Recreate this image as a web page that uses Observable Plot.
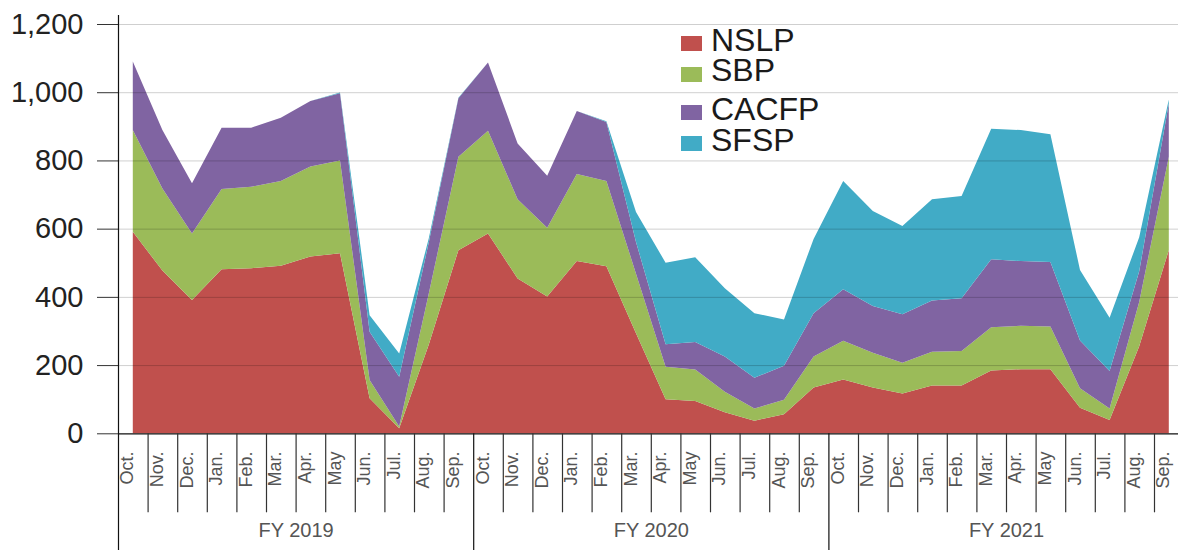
<!DOCTYPE html>
<html><head><meta charset="utf-8">
<script src="https://cdn.jsdelivr.net/npm/d3@7"></script>
<script src="https://cdn.jsdelivr.net/npm/@observablehq/plot@0.6"></script>
<style>
html,body{margin:0;padding:0;background:#fff;overflow:hidden;}
#wrap{position:relative;width:1178px;height:550px;}
#legend{position:absolute;left:681px;top:0;font-family:"Liberation Sans",Arial,sans-serif;font-size:32px;color:#1a1a1a;}
.sw{position:absolute;left:0;width:21px;height:15px;}
.lab{position:absolute;left:30px;line-height:24px;white-space:nowrap;}
</style></head><body>
<div id="wrap"><div id="chart"></div><div id="legend"></div></div>
<script>
const months = ["Oct.","Nov.","Dec.","Jan.","Feb.","Mar.","Apr.","May","Jun.","Jul.","Aug.","Sep.",
  "Oct.","Nov.","Dec.","Jan.","Feb.","Mar.","Apr.","May","Jun.","Jul.","Aug.","Sep.",
  "Oct.","Nov.","Dec.","Jan.","Feb.","Mar.","Apr.","May","Jun.","Jul.","Aug.","Sep."];
const fiscalYears = ["FY 2019","FY 2020","FY 2021"];
const programs = ["NSLP","SBP","CACFP","SFSP"];
const colors = ["#C0504D","#9BBB59","#8064A2","#41ABC6"];
const yTicks = [0,200,400,600,800,1000,1200];

const nslp  = [591,477,391,481,484,491,518,528,103,15,260,537, 586,454,401,505,490,293,100,95,62,37,56,134, 158,134,117,140,140,184,188,188,75,39,255,537];
const sbp   = [298,241,195,235,239,249,264,272,53,5,150,274, 301,232,202,255,250,175,95,92,60,36,42,91, 113,102,90,99,101,127,127,125,57,34,130,274];
const cacfp = [201,171,147,180,173,185,192,197,142,146,150,171, 200,164,152,185,173,93,66,81,103,90,100,127, 151,137,142,150,155,199,190,189,140,110,90,156];
const sfsp  = [0,0,0,0,0,0,0,2,48,68,12,2, 0,0,0,0,2,88,239,248,200,189,136,218, 318,279,259,297,300,383,384,375,207,156,100,12];

const series = [nslp, sbp, cacfp, sfsp];
const data = [];
programs.forEach((p, k) => series[k].forEach((v, i) => data.push({i, program: p, value: v})));

const monthIdx = months.map((m, i) => i);
const monthBounds = d3.range(0.5, 35, 1).filter(b => Math.round(b + 0.5) % 12 !== 0);
const yearBounds = [11.5, 23.5];
const yearCenters = fiscalYears.map((f, k) => ({f, x: k * 12 + 5.5}));

const chart = Plot.plot({
  width: 1178,
  height: 550,
  marginLeft: 118,
  marginRight: 0,
  marginTop: 15,
  marginBottom: 0,
  style: {fontFamily: "'Liberation Sans', Arial, sans-serif", background: "#fff"},
  x: {type: "linear", domain: [-0.5, 35.5], range: [118, 1183.6], axis: null},
  y: {domain: [0, 1200], range: [433.3, 24], axis: null},
  color: {domain: programs, range: colors},
  marks: [
    Plot.areaY(data, {x: "i", y: "value", z: "program", fill: "program", order: programs}),
    Plot.ruleY(yTicks.filter(d => d > 0), {stroke: "#000", strokeOpacity: 0.19}),
    Plot.axisY({ticks: yTicks, tickSize: 21, tickPadding: 14, fontSize: 29, tickFormat: d3.format(","), label: null, stroke: "#333", fill: "#222"}),
    Plot.ruleY([0], {stroke: "#111", strokeWidth: 1.3}),
    Plot.ruleX([-0.5], {stroke: "#111", strokeWidth: 1.2}),
    Plot.ruleX(yearBounds, {y1: 0, y2: 0, insetBottom: -117, stroke: "#111", strokeWidth: 1.2}),
    Plot.ruleX(monthBounds, {y1: 0, y2: 0, insetBottom: -79, stroke: "#333", strokeWidth: 1.2}),
    Plot.text(monthIdx, {x: d => d, text: d => months[d], frameAnchor: "bottom", rotate: -90, textAnchor: "end", dy: -99, fontSize: 18, fill: "#555"}),
    Plot.text(yearCenters, {x: "x", text: "f", frameAnchor: "bottom", dy: -13.5, fontSize: 20, fill: "#555"})
  ]
});
document.getElementById("chart").appendChild(chart);

const legend = document.getElementById("legend");
const swTops = [36, 66.5, 105, 136];
programs.forEach((p, k) => {
  const sw = document.createElement("div");
  sw.className = "sw";
  sw.style.top = swTops[k] + "px";
  sw.style.background = colors[k];
  legend.appendChild(sw);
  const lab = document.createElement("div");
  lab.className = "lab";
  lab.textContent = p;
  lab.style.top = (swTops[k] + 15 - 23.1) + "px";
  legend.appendChild(lab);
});
</script>
</body></html>
